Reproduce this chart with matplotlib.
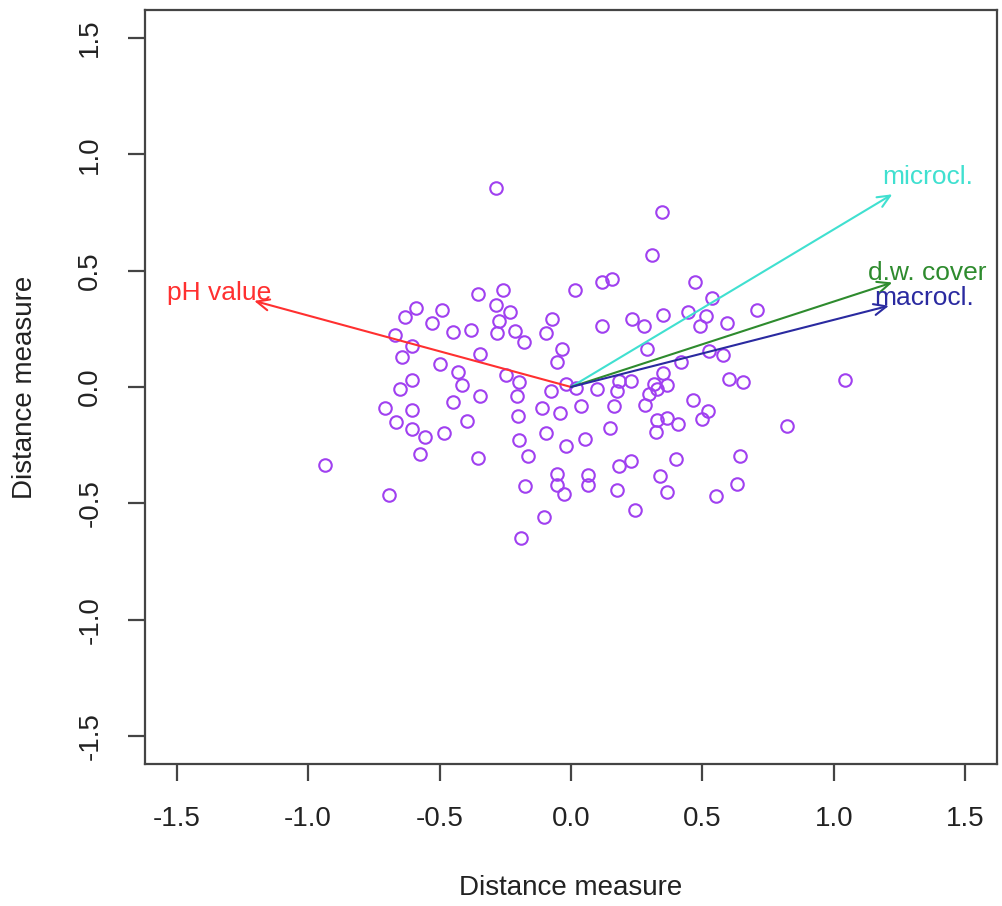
import numpy as np
import matplotlib.pyplot as plt

plt.rcParams['font.family'] = ['Liberation Sans', 'DejaVu Sans']

# --- site scores ---
site_x = [-0.286, -0.354, -0.259, -0.489, -0.286, -0.233, -0.527, -0.274, -0.071, -0.447,
          -0.381, -0.280, -0.213, -0.096, -0.179, -0.035, -0.347, -0.052, -0.500, -0.428,
          -0.416, -0.246, -0.198, -0.077, -0.020, -0.347, -0.204, -0.449, -0.111, -0.043,
          -0.200, -0.394, -0.483, -0.096, -0.198, -0.020, -0.163, -0.354, -0.052, -0.052,
          -0.027, -0.176, -0.103, -0.191, -0.631, -0.588, -0.670, -0.603, -0.644, -0.603,
          -0.651, -0.707, -0.603, -0.667, -0.603, -0.556, -0.575, -0.935, -0.692,
          0.345, 0.309, 0.016, 0.119, 0.157, 0.471, 0.535, 0.119, 0.233, 0.278,
          0.351, 0.445, 0.512, 0.490, 0.288, 0.525, 0.417, 0.351, 0.183, 0.227,
          0.020, 0.100, 0.174, 0.316, 0.328, 0.366, 0.297, 0.281, 0.465, 0.522,
          0.499, 0.037, 0.163, 0.326, 0.366, 0.407, 0.324, 0.147, 0.052, 0.183,
          0.228, 0.398, 0.337, 0.066, 0.066, 0.174, 0.364, 0.243, 0.550, 0.708,
          0.594, 0.578, 0.601, 0.655, 1.041, 0.823, 0.643, 0.631]
site_y = [0.857, 0.399, 0.416, 0.330, 0.353, 0.323, 0.277, 0.285, 0.292, 0.237,
          0.245, 0.232, 0.242, 0.232, 0.192, 0.163, 0.142, 0.109, 0.099, 0.063,
          0.009, 0.051, 0.023, -0.016, 0.013, -0.037, -0.037, -0.066, -0.090, -0.112,
          -0.123, -0.145, -0.197, -0.197, -0.226, -0.252, -0.298, -0.305, -0.373, -0.423,
          -0.459, -0.426, -0.557, -0.650, 0.302, 0.338, 0.225, 0.175, 0.130, 0.030,
          -0.009, -0.091, -0.097, -0.152, -0.180, -0.216, -0.290, -0.335, -0.466,
          0.750, 0.566, 0.415, 0.449, 0.463, 0.449, 0.381, 0.263, 0.292, 0.263,
          0.309, 0.323, 0.306, 0.263, 0.163, 0.156, 0.108, 0.060, 0.027, 0.027,
          -0.006, -0.009, -0.016, 0.013, -0.009, 0.009, -0.030, -0.077, -0.054, -0.105,
          -0.137, -0.083, -0.083, -0.140, -0.132, -0.159, -0.192, -0.176, -0.223, -0.338,
          -0.318, -0.309, -0.381, -0.376, -0.423, -0.442, -0.452, -0.528, -0.469, 0.330,
          0.277, 0.137, 0.034, 0.023, 0.031, -0.166, -0.296, -0.416]

# --- environmental vectors ---
env_names = ['pH value', 'microcl.', 'd.w. cover', 'macrocl.']
env_x = [-1.205, 1.222, 1.222, 1.209]
env_y = [0.370, 0.828, 0.449, 0.349]
env_colors = ['#FF3030', '#40E0D0', '#2E8B2E', '#2A2AA0']

ticks = [-1.5, -1.0, -0.5, 0.0, 0.5, 1.0, 1.5]
tick_labels = ['-1.5', '-1.0', '-0.5', '0.0', '0.5', '1.0', '1.5']

fig = plt.figure(figsize=(10.03, 9.06), dpi=100)
ax = fig.add_axes([0.1446, 0.1567, 0.8494, 0.8323])

ax.plot(site_x, site_y, 'o', mfc='none', mec='#A040F0', ms=9, mew=1.5)

for name, ex, ey, col in zip(env_names, env_x, env_y, env_colors):
    ax.annotate('', xy=(ex, ey), xytext=(0, 0),
                arrowprops=dict(arrowstyle='->,head_length=0.45,head_width=0.2',
                                color=col, lw=1.5, shrinkA=0, shrinkB=0,
                                mutation_scale=20))
    # labels sit just beyond the arrow tips
    ax.text(ex * 1.11, ey * 1.09, name, color=col, fontsize=19,
            ha='center', va='center', clip_on=False)

ax.set_xlim(-1.62, 1.62)
ax.set_ylim(-1.62, 1.62)
ax.set_xticks(ticks)
ax.set_xticklabels(tick_labels)
ax.set_yticks(ticks)
ax.set_yticklabels(tick_labels, rotation=90, va='center')

for sp in ax.spines.values():
    sp.set_color('#444444')
    sp.set_linewidth(1.6)
ax.tick_params(axis='both', length=12, width=1.6, color='#444444',
               labelsize=20, labelcolor='#222222', pad=18)

ax.set_xlabel('Distance measure', fontsize=20, color='#222222')
ax.set_ylabel('Distance measure', fontsize=20, color='#222222')
ax.xaxis.set_label_coords(0.5, -0.147)
ax.yaxis.set_label_coords(-0.126, 0.5)

fig.savefig('out.png', dpi=100)
